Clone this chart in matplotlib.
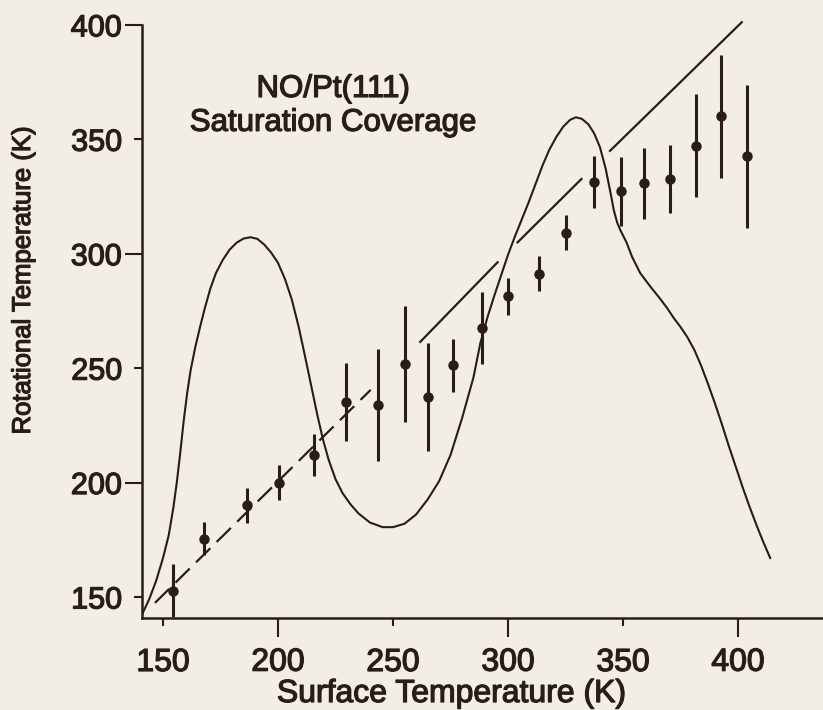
import matplotlib
matplotlib.use("Agg")
import matplotlib.pyplot as plt
import matplotlib.patheffects as pe

# data points (K)
surf_T = [154.2, 167.8, 186.5, 200.4, 215.8, 229.6, 243.6, 255.2, 265.4, 276.1, 288.8,
          300.1, 313.6, 325.4, 337.3, 349.0, 359.1, 370.4, 381.7, 392.5, 404.0]
rot_T = [152.8, 175.5, 190.0, 200.0, 212.2, 235.2, 233.9, 251.8, 237.3, 251.2, 267.7,
         281.3, 291.3, 309.2, 331.4, 327.2, 330.7, 332.6, 347.1, 360.0, 342.5]
rot_err = [11.5, 7.1, 7.6, 7.6, 9.2, 17.0, 24.5, 25.4, 23.5, 11.5, 15.7,
           7.9, 7.7, 7.7, 11.4, 15.2, 15.5, 15.0, 22.5, 27.0, 31.2]

# smooth model curve, traced
curve_x = [140.5, 144, 147, 150, 152.5, 154.5, 156, 157.5, 159, 160.5,
           162, 164, 166, 168, 170.5, 173, 176, 179, 182, 185, 188,
           191, 194, 197, 200, 203, 206, 209, 212, 214.5, 217,
           219.5, 222, 225, 228, 231.5, 235, 240, 245.5, 250, 255,
           260, 265, 270, 275, 280, 285, 288, 291, 294, 297,
           300, 303, 306, 309, 312, 315, 318, 321, 324, 327,
           329.5, 332, 335, 337.5, 340, 342.5, 344.5, 346, 347.5, 349,
           351.5, 354, 357.5, 362, 366, 369, 372, 375, 378, 381, 384,
           387, 390, 393, 396, 399, 402, 405, 408, 411, 414]
curve_y = [141.5, 149, 157, 167, 177, 189, 200, 213, 227, 239,
           249, 259, 267.5, 275.5, 284.5, 291.5, 297.3, 301.8, 304.8, 306.6, 307.2,
           306.5, 304, 300.5, 296, 289, 280, 268, 254, 242, 230,
           219, 210, 201.5, 195.5, 190.5, 186.5, 182.5, 180.5, 180.5, 182,
           186, 192.5, 200.5, 212, 228, 246, 261, 272, 281.5, 290.5,
           299.5, 307.5, 315, 322.5, 330.5, 338.5, 345.5, 351, 355.5, 358.5,
           359.6, 359, 356.5, 352.5, 346.5, 337, 327, 319, 313.5, 310,
           305, 298.5, 291.5, 285.5, 280.5, 276.5, 272, 268, 263.5, 258, 251,
           243, 234.5, 225.5, 216, 207, 198, 189.5, 181.5, 174, 167]

# pieces of the Trot = Ts line (start, end)
diag_dashed = ([146.5, 240.3], [147.4, 240.5])
diag_solid = [([261.5, 295.8], [261.1, 296.6]),
              ([303.8, 332.3], [304.6, 333.0]),
              ([344.0, 402.0], [344.6, 401.5])]

ink = "#2a1c1b"
bg = "#f3eee3"
plt.rcParams["font.family"] = ["Liberation Sans", "DejaVu Sans"]
thick = [pe.withStroke(linewidth=0.9, foreground=ink)]

fig = plt.figure(figsize=(8.23, 7.10), dpi=100, facecolor=bg)
ax = fig.add_axes([142/823, 92/710, 681/823, 600/710], facecolor=bg)

ax.plot(curve_x, curve_y, color=ink, lw=1.5)
ax.plot(diag_dashed[0], diag_dashed[1], color=ink, lw=1.6, dashes=(9, 4))
for sx, sy in diag_solid:
    ax.plot(sx, sy, color=ink, lw=1.6, solid_capstyle="butt")
ax.errorbar(surf_T, rot_T, yerr=rot_err, fmt="o", ms=6.5, color=ink,
            elinewidth=2.2, capsize=0, zorder=3)

ax.set_xlim(140.87, 436.96)
ax.set_ylim(140.8, 403)

for spine in ["top", "right"]:
    ax.spines[spine].set_visible(False)
ax.spines["left"].set_bounds(140.8, 400)
for spine in ["left", "bottom"]:
    ax.spines[spine].set_linewidth(1.8)
    ax.spines[spine].set_color(ink)

ax.set_xticks([200, 300, 400], labels=["200", "300", "400"])
ax.set_xticks([150, 250, 350], labels=["150", "250", "350"], minor=True)
ax.set_yticks([200, 300, 400], labels=["200", "300", "400"])
ax.set_yticks([150, 250, 350], labels=["150", "250", "350"], minor=True)

ax.tick_params(axis="x", which="major", length=13.5, width=1.5, pad=7.9,
               labelsize=23, color=ink, labelcolor=ink)
ax.tick_params(axis="x", which="minor", length=5.8, width=1.5, pad=15.8,
               labelsize=23, color=ink, labelcolor=ink)
ax.tick_params(axis="y", which="major", length=12.2, width=1.5, pad=2.2,
               labelsize=22, color=ink, labelcolor=ink)
ax.tick_params(axis="y", which="minor", length=5.6, width=1.5, pad=8.7,
               labelsize=22, color=ink, labelcolor=ink)
for lab in ax.get_xticklabels(which="both") + ax.get_yticklabels(which="both"):
    lab.set_path_effects(thick)

ax.text(224, 368.5, "NO/Pt(111)", fontsize=22.5, color=ink, ha="center",
        va="baseline", path_effects=thick)
ax.text(224, 353.7, "Saturation Coverage", fontsize=22.5, color=ink,
        ha="center", va="baseline", path_effects=thick)

fig.text(452/823, 8/710, "Surface Temperature (K)", fontsize=23, color=ink,
         ha="center", va="baseline", path_effects=thick)
fig.text(23/823, 1 - 280/710, "Rotational Temperature (K)", fontsize=18.5,
         color=ink, rotation=90, ha="center", va="center", path_effects=thick)

fig.savefig("out.png", dpi=100, facecolor=bg)
